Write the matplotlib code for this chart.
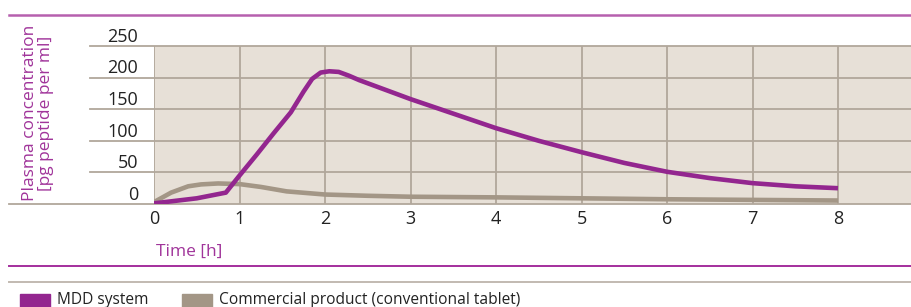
import matplotlib
matplotlib.use("Agg")
import matplotlib.pyplot as plt
from matplotlib.patches import Rectangle
from matplotlib.lines import Line2D

# values
time_mdd = [0, 0.25, 0.5, 0.84, 1.0, 1.2, 1.4, 1.6, 1.75, 1.85, 1.95, 2.05, 2.16,
            2.28, 2.4, 2.7, 3, 3.5, 4, 4.5, 5, 5.5, 6, 6.5, 7, 7.5, 8]
conc_mdd = [1, 5, 9, 18, 45, 78, 112, 145, 178, 198, 208, 210, 209,
            203, 196, 181, 166, 143, 120, 100, 82, 65, 51, 41, 33, 28, 25]
time_tab = [0, 0.2, 0.4, 0.55, 0.75, 1.0, 1.25, 1.55, 2, 2.5, 3, 4, 5, 6, 7, 8]
conc_tab = [3, 18, 28, 31, 32.5, 31.5, 27, 20, 15, 13, 11.5, 10.5, 9, 7.5, 6.5, 5.5]
x_ticks = [0, 1, 2, 3, 4, 5, 6, 7, 8]
y_ticks = [0, 50, 100, 150, 200, 250]
series_names = ["MDD system", "Commercial product (conventional tablet)"]

W, H = 911, 307
purple = "#93268f"
purple_txt = "#a0349a"
taupe = "#a39686"
beige = "#e7e0d7"
gridc = "#b1a79b"
font = "Open Sans"

fig = plt.figure(figsize=(W / 100, H / 100), dpi=100)
x0, x1, y0, y1 = 154, 911, 204, 46
ax = fig.add_axes([x0 / W, 1 - y0 / H, (x1 - x0) / W, (y0 - y1) / H])
px_per_h = 85.5
ax.set_xlim(0, (x1 - x0) / px_per_h)
ax.set_ylim(0, 250)
ax.set_facecolor(beige)
for s in ax.spines.values():
    s.set_visible(False)
ax.set_xticks([])
ax.set_yticks([])

# grid
for t in x_ticks:
    ax.axvline(t, color=gridc, lw=1.3, zorder=1)
left_grid = (90 - x0) / (x1 - x0)
left_zero = (9 - x0) / (x1 - x0)
for v in y_ticks:
    xs = left_zero if v == 0 else left_grid
    ax.plot([xs, 1], [v, v], color=gridc, lw=1.3, clip_on=False,
            transform=ax.get_yaxis_transform(), zorder=1)

# curves
ax.plot(time_tab, conc_tab, color=taupe, lw=3.3, solid_capstyle="butt",
        solid_joinstyle="round", zorder=3)
ax.plot(time_mdd, conc_mdd, color=purple, lw=3.3, solid_capstyle="butt",
        solid_joinstyle="round", zorder=4)

# tick labels
for v in y_ticks:
    ax.text(-16 / px_per_h, v + 0.3, str(v), ha="right", va="bottom",
            fontsize=13, color="#222222", family=font)
for t in x_ticks:
    ax.text(t, -10, str(t), ha="center", va="top",
            fontsize=13, color="#222222", family=font, clip_on=False)

fig.text(189 / W, 1 - 252 / H, "Time [h]", ha="center", va="center",
         fontsize=12.5, color=purple_txt, family=font)
fig.text(38 / W, 1 - 113 / H, "Plasma concentration\n[pg peptide per ml]",
         rotation=90, ha="center", va="center", fontsize=12.5,
         color=purple_txt, family=font, linespacing=1.05)

# rules
fig.add_artist(Line2D([9 / W, 1], [1 - 15 / H] * 2, color="#b660ae", lw=1.8))
fig.add_artist(Line2D([9 / W, 1], [1 - 266 / H] * 2, color="#a42f9d", lw=1.4))
fig.add_artist(Line2D([9 / W, 1], [1 - 282 / H] * 2, color="#c2bab1", lw=1.4))

# legend
colors = [purple, taupe]
rect_x = [20, 182]
for name, c, rx in zip(series_names, colors, rect_x):
    fig.add_artist(Rectangle((rx / W, -4 / H), 30 / W, 17 / H,
                             transform=fig.transFigure, color=c))
    fig.text((rx + 37) / W, 1 - 300 / H, name, ha="left", va="center",
             fontsize=11.2, color="#222222", family=font)

fig.savefig("out.png", dpi=100)
